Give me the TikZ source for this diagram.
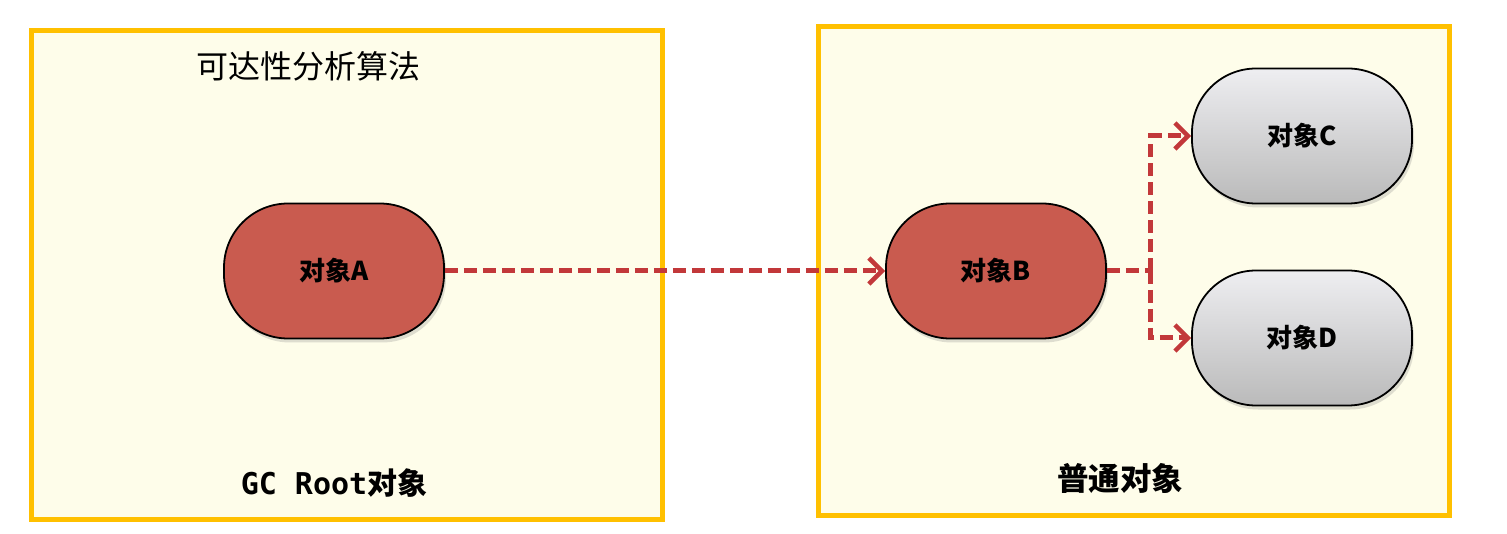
\documentclass[tikz,border=0pt]{standalone}
\usepackage{fontspec}
\newfontfamily\cjk{Noto Sans CJK SC}
\newfontfamily\monofont{DejaVu Sans Mono}
\usetikzlibrary{arrows.meta,shadows}
\definecolor{boxline}{HTML}{FFC000}
\definecolor{boxfill}{HTML}{FEFDEA}
\definecolor{redfill}{HTML}{C95B4F}
\definecolor{arrowred}{HTML}{C2383A}
\definecolor{graytop}{HTML}{EEEEF1}
\definecolor{graybot}{HTML}{BABABA}
\tikzset{
  panel/.style={draw=boxline, line width=5pt, fill=boxfill},
  obj/.style={draw=black, line width=1.8pt, rectangle, rounded corners=64pt,
    minimum width=220pt, minimum height=135pt, inner sep=0pt,
    font=\cjk\bfseries\fontsize{26}{30}\selectfont,
    drop shadow={opacity=0.25, shadow xshift=2pt, shadow yshift=-4pt}},
  redobj/.style={obj, fill=redfill},
  grayobj/.style={obj, top color=graytop, bottom color=graybot},
  link/.style={draw=arrowred, line width=5pt, dash pattern=on 13pt off 6pt,
    -{Straight Barb[length=13pt,width=26pt,line width=4.5pt]}},
  linkplain/.style={draw=arrowred, line width=5pt, dash pattern=on 13pt off 6pt}
}
\begin{document}
\begin{tikzpicture}[x=1pt,y=-1pt]
\useasboundingbox (0,0) rectangle (1507,534);
\fill[white] (0,0) rectangle (1507,534);
% panels
\draw[panel] (31,31) rectangle (662,519);
\draw[panel] (818,27) rectangle (1449,515);
% titles
\node[font=\cjk\fontsize{32}{36}\selectfont] (title) at (308,66) {可达性分析算法};
\node[font=\bfseries\fontsize{30}{34}\selectfont] (gcroot) at (334,483) {{\monofont GC Root}{\cjk 对象}};
\node[font=\cjk\bfseries\fontsize{31.5}{36}\selectfont] (normal) at (1120,478) {普通对象};
% objects
\node[redobj] (A) at (334,271) {对象A};
\node[redobj] (B) at (996,271) {对象B};
\node[grayobj] (C) at (1302,136) {对象C};
\node[grayobj] (D) at (1302,338) {对象D};
% connectors
\draw[link] (A.east) -- (B.west);
\draw[linkplain] (B.east) -- ++(44,0) coordinate (split);
\draw[link] (split) |- (C.west);
\draw[link] (split) |- (D.west);
\end{tikzpicture}
\end{document}
